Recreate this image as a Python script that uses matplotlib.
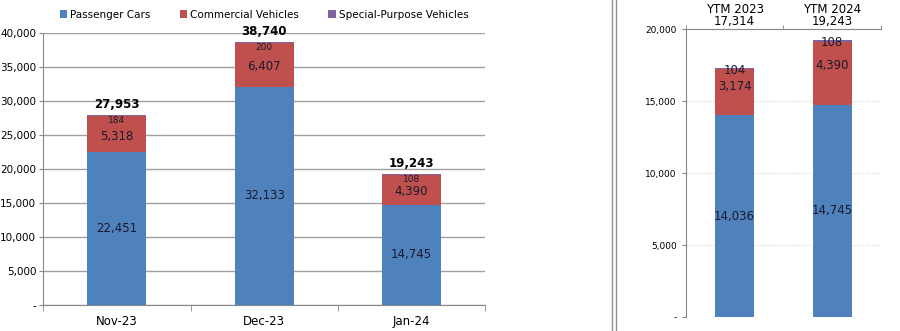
import numpy as np
import matplotlib.pyplot as plt
from matplotlib.ticker import FuncFormatter

# Monthly data
months = ['Nov-23', 'Dec-23', 'Jan-24']
passenger = [22451, 32133, 14745]
commercial = [5318, 6407, 4390]
special = [184, 200, 108]
totals = [27953, 38740, 19243]

# Year-to-month data
ytm_labels = ['YTM 2023', 'YTM 2024']
ytm_passenger = [14036, 14745]
ytm_commercial = [3174, 4390]
ytm_special = [104, 108]
ytm_totals = [17314, 19243]

c_pass = '#4F81BD'
c_comm = '#C0504D'
c_spec = '#8064A2'
txt = '#1a1a2e'


def fmt(v, pos):
    return '-' if v == 0 else '{:,.0f}'.format(v)


fig = plt.figure(figsize=(9, 3.31), dpi=100)

# Left chart
ax = fig.add_axes([0.048, 0.079, 0.491, 0.821])
x = np.arange(len(months))
bottom2 = np.array(passenger) + np.array(commercial)
ax.bar(x, passenger, 0.4, color=c_pass, label='Passenger Cars', zorder=3)
ax.bar(x, commercial, 0.4, bottom=passenger, color=c_comm, label='Commercial Vehicles', zorder=3)
ax.bar(x, special, 0.4, bottom=bottom2, color=c_spec, label='Special-Purpose Vehicles', zorder=3)
for i in range(len(months)):
    ax.text(x[i], passenger[i] / 2, '{:,}'.format(passenger[i]), ha='center', va='center', fontsize=8.5, color=txt, zorder=4)
    ax.text(x[i], passenger[i] + commercial[i] * 0.45, '{:,}'.format(commercial[i]), ha='center', va='center', fontsize=8.5, color=txt, zorder=4)
    ax.text(x[i], bottom2[i] + 50, '{:,}'.format(special[i]), ha='center', va='top', fontsize=6.5, color=txt, zorder=4)
    ax.text(x[i], totals[i] + 550, '{:,}'.format(totals[i]), ha='center', va='bottom', fontsize=8.5, fontweight='bold', color='black', zorder=4)
ax.set_xlim(-0.5, 2.5)
ax.set_ylim(0, 40000)
ax.set_yticks(np.arange(0, 40001, 5000))
ax.yaxis.set_major_formatter(FuncFormatter(fmt))
ax.set_xticks(x)
ax.set_xticklabels(months)
ax.set_xticks([-0.5, 0.5, 1.5, 2.5], minor=True)
ax.tick_params(axis='x', which='major', length=0, labelsize=8.5, pad=7)
ax.tick_params(axis='x', which='minor', length=4, color='#888888')
ax.tick_params(axis='y', length=3, labelsize=7.5, color='#888888', pad=2)
ax.grid(axis='y', color='#a0a0a0', linewidth=1, zorder=0)
for s in ['top', 'right']:
    ax.spines[s].set_visible(False)
ax.spines['left'].set_color('#888888')
ax.spines['bottom'].set_color('#888888')
ax.legend(loc='lower center', bbox_to_anchor=(0.5, 1.015), ncol=3, frameon=False,
          fontsize=7.5, handlelength=0.7, handleheight=0.7, handletextpad=0.3, columnspacing=2.8)

# Separator
for xs in [0.680, 0.684]:
    fig.add_artist(plt.Line2D([xs, xs], [0, 1], color='#909090', linewidth=1))

# Right chart
ax2 = fig.add_axes([0.762, 0.042, 0.217, 0.870])
x2 = np.arange(len(ytm_labels))
ytm_bottom2 = np.array(ytm_passenger) + np.array(ytm_commercial)
ax2.bar(x2, ytm_passenger, 0.4, color=c_pass, zorder=3)
ax2.bar(x2, ytm_commercial, 0.4, bottom=ytm_passenger, color=c_comm, zorder=3)
ax2.bar(x2, ytm_special, 0.4, bottom=ytm_bottom2, color=c_spec, zorder=3)
for i in range(len(ytm_labels)):
    ax2.text(x2[i], ytm_passenger[i] / 2, '{:,}'.format(ytm_passenger[i]), ha='center', va='center', fontsize=8.5, color=txt, zorder=4)
    ax2.text(x2[i], ytm_passenger[i] + ytm_commercial[i] * 0.62, '{:,}'.format(ytm_commercial[i]), ha='center', va='center', fontsize=8.5, color=txt, zorder=4)
    ax2.text(x2[i], ytm_bottom2[i] - 50, '{:,}'.format(ytm_special[i]), ha='center', va='center', fontsize=8.5, color=txt, zorder=4)
ax2.set_xlim(-0.5, 1.5)
ax2.set_ylim(0, 20000)
ax2.set_yticks(np.arange(0, 20001, 5000))
ax2.yaxis.set_major_formatter(FuncFormatter(fmt))
ax2.xaxis.tick_top()
ax2.set_xticks(x2)
ax2.set_xticklabels(['{}\n{:,}'.format(l, t) for l, t in zip(ytm_labels, ytm_totals)], linespacing=0.9)
ax2.set_xticks([-0.5, 0.5, 1.5], minor=True)
ax2.tick_params(axis='x', which='major', length=0, labelsize=8.5, pad=1)
ax2.tick_params(axis='x', which='minor', length=3, color='#888888', top=True, bottom=False)
ax2.tick_params(axis='y', length=3, labelsize=6.5, color='#888888')
ax2.grid(axis='y', color='#d0d0d0', linewidth=0.8, linestyle=':', zorder=0)
ax2.spines['right'].set_visible(False)
ax2.spines['bottom'].set_visible(False)
ax2.spines['left'].set_color('#888888')
ax2.spines['top'].set_color('#888888')

fig.savefig('out.png', dpi=100)
